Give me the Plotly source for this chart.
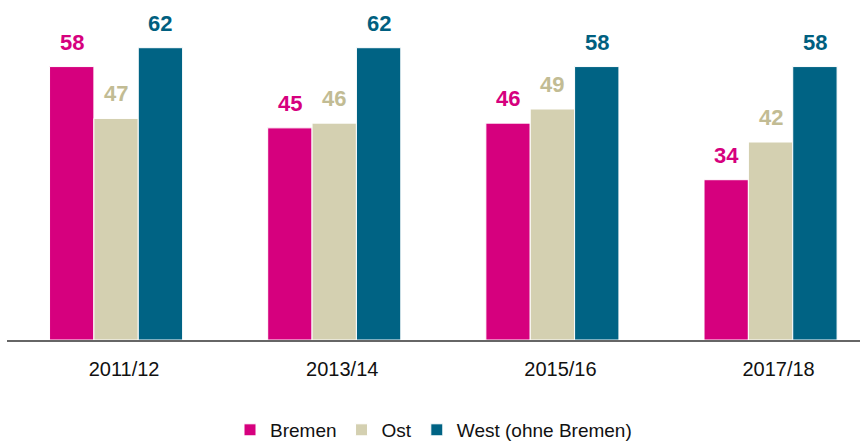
import plotly.graph_objects as go

years = ['2011/12', '2013/14', '2015/16', '2017/18']
bremen = [58, 45, 46, 34]
ost = [47, 46, 49, 42]
west = [62, 62, 58, 58]

series = [
    ('Bremen', bremen, '#D6007E', '#D6007E'),
    ('Ost', ost, '#D4D0B1', '#C2BC94'),
    ('West (ohne Bremen)', west, '#006384', '#005F80'),
]

W, H = 867, 446
ml, mr, mt, mb = 7, 7, 10, 106
x_range = [-0.5, 3.41]
y_range = [0, 70]
bargap = 0.39

fig = go.Figure()
for name, vals, col, _ in series:
    fig.add_trace(go.Bar(x=years, y=vals, name=name, marker=dict(color=col, line=dict(color='white', width=1))))

# value labels above the bars
px_per_cat = (W - ml - mr) / (x_range[1] - x_range[0])
bar_w = px_per_cat * (1 - bargap) / len(series)
for i, (name, vals, _, lcol) in enumerate(series):
    shift = (i - 1) * bar_w
    for yr, v in zip(years, vals):
        fig.add_annotation(x=yr, y=v, text='<b>%d</b>' % v, showarrow=False,
                           xshift=shift, yshift=10, yanchor='bottom',
                           font=dict(family='Liberation Sans, Arial', size=22, color=lcol))

fig.update_layout(
    width=W, height=H,
    margin=dict(l=ml, r=mr, t=mt, b=mb, autoexpand=False),
    plot_bgcolor='white', paper_bgcolor='white',
    barmode='group', bargap=bargap, bargroupgap=0,
    font=dict(family='Liberation Sans, Arial', size=19, color='#111111'),
    showlegend=True,
    legend=dict(orientation='h', x=0.5, xanchor='center', y=-0.215, yanchor='top',
                font=dict(size=19, color='#111111'), itemwidth=30, traceorder='normal'),
    xaxis=dict(range=x_range, showline=True, linecolor='#666666', linewidth=2,
               ticks='', showgrid=False, automargin=False, ticklabelshift=8, ticklabelstandoff=10,
               tickfont=dict(size=20, color='#111111')),
    yaxis=dict(range=y_range, visible=False, showgrid=False, automargin=False),
)

# page has a default 8px body margin; drop it so the figure fills the window
fig.write_html('out.html', config={'displayModeBar': False},
               post_script="document.body.style.margin='0';")
